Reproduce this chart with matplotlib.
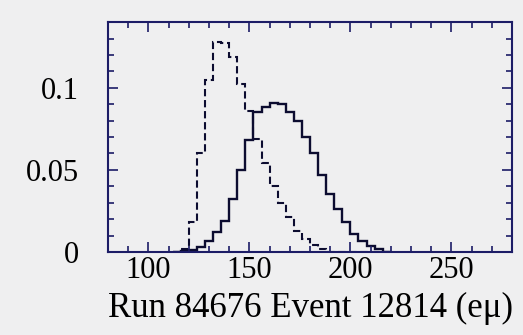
import numpy as np
import matplotlib
matplotlib.use('Agg')
import matplotlib.pyplot as plt
from matplotlib.ticker import MultipleLocator

# bin lower edges, 4 units wide
bin_lo = [112, 116, 120, 124, 128, 132, 136, 140, 144, 148, 152, 156, 160, 164,
          168, 172, 176, 180, 184, 188, 192, 196, 200, 204, 208, 212, 216]
bin_width = 4

# solid histogram
solid = [0, 0.0005, 0.001, 0.003, 0.0067, 0.012, 0.019, 0.032, 0.050, 0.068,
         0.085, 0.088, 0.091, 0.090, 0.085, 0.080, 0.070, 0.060, 0.047, 0.035,
         0.026, 0.018, 0.011, 0.0067, 0.0037, 0.0016, 0]
# dashed histogram
dashed = [0, 0.0016, 0.018, 0.060, 0.105, 0.128, 0.127, 0.119, 0.102, 0.086,
          0.069, 0.054, 0.040, 0.030, 0.021, 0.013, 0.008, 0.004, 0.0016, 0,
          0, 0, 0, 0, 0, 0, 0]

xticks = [100, 150, 200, 250]
yticks = [0, 0.05, 0.1]
ytick_labels = ['0', '0.05', '0.1']
xlabel = 'Run 84676 Event 12814 (e\u03bc)'

plt.rcParams['font.family'] = ['Liberation Serif', 'DejaVu Serif']

bg = '#efeff0'
navy = '#1c1c66'
ink = '#0c0c30'

fig = plt.figure(figsize=(5.23, 3.35), dpi=100, facecolor=bg)
ax = fig.add_axes([0.2065, 0.248, 0.7725, 0.686], facecolor=bg)

edges = np.append(bin_lo, bin_lo[-1] + bin_width)
ax.stairs(solid, edges, color=ink, lw=1.7)
ax.stairs(dashed, edges, color=ink, lw=1.5, linestyle=(0, (3.5, 1.8)))

ax.set_xlim(80, 280)
ax.set_ylim(0, 0.14)
ax.set_xticks(xticks)
ax.xaxis.set_minor_locator(MultipleLocator(10))
ax.set_yticks(yticks)
ax.set_yticklabels(ytick_labels)
ax.yaxis.set_minor_locator(MultipleLocator(0.01))

ax.tick_params(which='both', direction='in', top=True, right=True,
               color=navy, labelsize=22, labelcolor='black', width=1.2)
ax.tick_params(which='major', length=7)
ax.tick_params(which='minor', length=4)
ax.tick_params(axis='x', pad=3)
ax.tick_params(axis='y', pad=21)

for s in ax.spines.values():
    s.set_color(navy)
    s.set_linewidth(1.5)

ax.set_xlabel(xlabel, fontsize=25, labelpad=5)

fig.savefig('out.png', dpi=100, facecolor=bg)
